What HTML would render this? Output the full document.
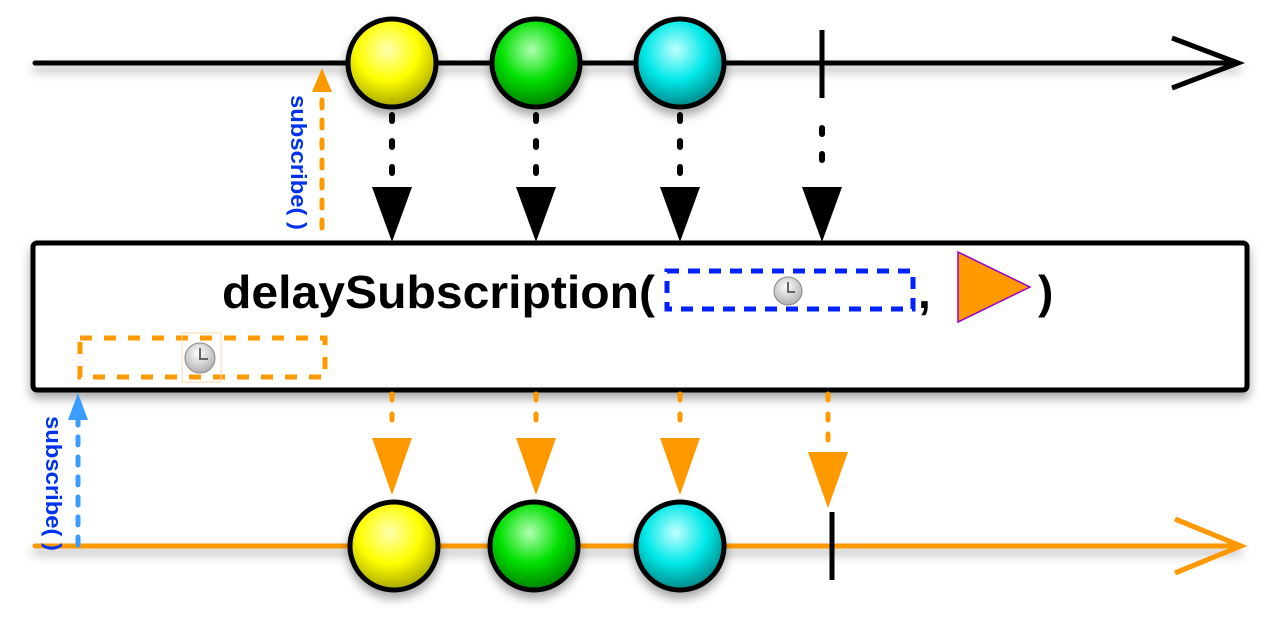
<!DOCTYPE html>
<html><head><meta charset="utf-8"><style>html,body{margin:0;background:#fff}svg{display:block}</style></head>
<body>
<svg id="c" width="1280" height="620" viewBox="0 0 1280 620" font-family="Liberation Sans, sans-serif">
<defs>
<radialGradient id="gy" cx="0.45" cy="0.35" r="0.7"><stop offset="0" stop-color="#ffffb0"/><stop offset="0.5" stop-color="#ffff00"/><stop offset="1" stop-color="#9a9a00"/></radialGradient>
<radialGradient id="gg" cx="0.45" cy="0.35" r="0.7"><stop offset="0" stop-color="#b0ffb0"/><stop offset="0.5" stop-color="#00e000"/><stop offset="1" stop-color="#007000"/></radialGradient>
<radialGradient id="gc" cx="0.45" cy="0.35" r="0.7"><stop offset="0" stop-color="#c0ffff"/><stop offset="0.5" stop-color="#00e8e8"/><stop offset="1" stop-color="#007878"/></radialGradient>
<radialGradient id="gk" cx="0.45" cy="0.35" r="0.7"><stop offset="0" stop-color="#fff"/><stop offset="1" stop-color="#aaa"/></radialGradient>
<filter id="sh" filterUnits="userSpaceOnUse" x="0" y="0" width="1280" height="620"><feDropShadow dx="0" dy="6" stdDeviation="5" flood-opacity="0.35"/></filter>
</defs>
<g id="top">
<line x1="35" y1="63" x2="1238" y2="63" stroke="#000" stroke-width="5" stroke-linecap="round" filter="url(#sh)"/>
<polyline points="1172,38 1238,63 1172,88" fill="none" stroke="#000" stroke-width="5"/>
</g>
<g id="bot">
<line x1="35" y1="546" x2="1240" y2="546" stroke="#f90" stroke-width="5" stroke-linecap="round" filter="url(#sh)"/>
<polyline points="1175,519 1241,546 1175,573" fill="none" stroke="#f90" stroke-width="5"/>
</g>
<rect x="33" y="243" width="1214" height="147" rx="4" fill="#fff" stroke="#000" stroke-width="5" filter="url(#sh)"/>
<text x="222" y="308" font-size="46" font-weight="bold" textLength="433" lengthAdjust="spacingAndGlyphs">delaySubscription(</text>
<rect x="667" y="271" width="246" height="38" fill="none" stroke="#0022ff" stroke-width="5" stroke-dasharray="12,9"/>
<g><circle cx="788" cy="291" r="14" fill="url(#gk)" stroke="#888"/><path d="M788,282 V292 H795" stroke="#666" stroke-width="2" fill="none"/></g>
<text x="918" y="308" font-size="46" font-weight="bold">,</text>
<polygon points="958,252 1030,287 958,322" fill="#f90" stroke="#90c" stroke-width="1.5"/>
<text x="1038" y="308" font-size="46" font-weight="bold">)</text>
<rect x="80" y="338" width="245" height="39" fill="none" stroke="#f90" stroke-width="5" stroke-dasharray="12,12"/>
<rect x="182" y="333" width="39" height="49" fill="none" stroke="#fdd8a8" stroke-width="1"/>
<g><circle cx="200" cy="358" r="15" fill="url(#gk)" stroke="#888"/><path d="M200,348 V359 H208" stroke="#666" stroke-width="2" fill="none"/></g>
<line x1="322" y1="228" x2="322" y2="92" stroke="#f90" stroke-width="5" stroke-dasharray="8,12" stroke-linecap="round"/>
<polygon points="312,92 322,68 332,92" fill="#f90"/>
<text transform="translate(291,95) rotate(90)" font-size="22" font-weight="bold" fill="#0033ee" textLength="135" lengthAdjust="spacingAndGlyphs">subscribe( )</text>
<line x1="78" y1="545" x2="78" y2="420" stroke="#3a9cff" stroke-width="5" stroke-dasharray="8,12" stroke-linecap="round"/>
<polygon points="68,420 78,393 88,420" fill="#3a9cff"/>
<text transform="translate(46,416) rotate(90)" font-size="22" font-weight="bold" fill="#0033ee" textLength="135" lengthAdjust="spacingAndGlyphs">subscribe( )</text>
<g id="marks"></g>
</svg>
<script>
const srcX = [392, 536, 680];
const resX = [394, 534, 680];
const fills = ['url(#gy)', 'url(#gg)', 'url(#gc)'];
const srcDone = [822];
const resDone = [832];
const NS = 'http://www.w3.org/2000/svg';
const g = document.getElementById('marks');
function mk(tag, attrs) { const e = document.createElementNS(NS, tag); for (const k in attrs) e.setAttribute(k, attrs[k]); g.appendChild(e); return e; }
srcX.forEach((x, i) => {
  const l = mk('line', {x1: x, y1: 115, x2: x, y2: 180, stroke: '#000', 'stroke-width': 6, 'stroke-dasharray': '6,20', 'stroke-linecap': 'round'});
  
  
  const t = mk('polygon', {points: `${x-20},187 ${x+20},187 ${x},242`, fill: '#000'});
  
  
  const c = mk('circle', {cx: x, cy: 63, r: 44, fill: fills[i], stroke: '#000', 'stroke-width': 5, filter: 'url(#sh)'});
  
  
});
srcDone.forEach(x => {
  const c = mk('line', {x1: x, y1: 30, x2: x, y2: 98, stroke: '#000', 'stroke-width': 5});
  
  
  const l = mk('line', {x1: x, y1: 128, x2: x, y2: 180, stroke: '#000', 'stroke-width': 6, 'stroke-dasharray': '6,20', 'stroke-linecap': 'round'});
  
  
  const t = mk('polygon', {points: `${x-20},187 ${x+20},187 ${x},242`, fill: '#000'});
  
  
});
resX.forEach((x, i) => {
  const sx = srcX[i];
  const l = mk('line', {x1: sx, y1: 394, x2: sx, y2: 432, stroke: '#f90', 'stroke-width': 5, 'stroke-dasharray': '6,14', 'stroke-linecap': 'round'});
  
  
  const t = mk('polygon', {points: `${sx-20},438 ${sx+20},438 ${sx},495`, fill: '#f90'});
  
  
  const c = mk('circle', {cx: x, cy: 546, r: 44, fill: fills[i], stroke: '#000', 'stroke-width': 5, filter: 'url(#sh)'});
  
  
});
resDone.forEach(x => {
  const ax = srcDone[0] + 6;
  const l = mk('line', {x1: ax, y1: 394, x2: ax, y2: 446, stroke: '#f90', 'stroke-width': 5, 'stroke-dasharray': '6,14', 'stroke-linecap': 'round'});
  
  
  const t = mk('polygon', {points: `${ax-20},452 ${ax+20},452 ${ax},508`, fill: '#f90'});
  
  
  const c = mk('line', {x1: x, y1: 512, x2: x, y2: 580, stroke: '#000', 'stroke-width': 5});
  
  
});
</script>
</body></html>
